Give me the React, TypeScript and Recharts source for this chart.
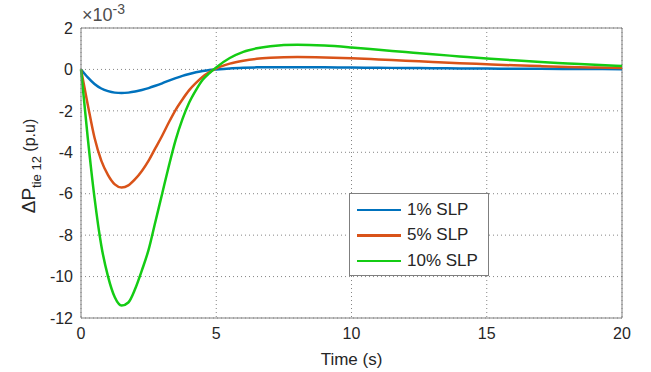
import React from 'react'
import {
  LineChart,
  Line,
  XAxis,
  YAxis,
  CartesianGrid,
  ReferenceLine,
} from 'recharts'

// time in seconds, values in units of 1e-3 p.u.
const time = [0, 0.25, 0.5, 0.75, 1, 1.25, 1.5, 1.75, 2, 2.25, 2.5, 2.75, 3, 3.25, 3.5, 3.75, 4, 4.25, 4.5, 4.75, 5, 5.5, 6, 6.5, 7, 8, 9, 10, 11, 12, 13, 14, 15, 16, 17, 18, 19, 20]
const slp1 = [0, -0.38, -0.7, -0.92, -1.05, -1.12, -1.14, -1.12, -1.07, -0.99, -0.9, -0.79, -0.67, -0.54, -0.42, -0.31, -0.22, -0.14, -0.08, -0.03, 0.0, 0.05, 0.08, 0.1, 0.11, 0.11, 0.1, 0.09, 0.08, 0.07, 0.06, 0.05, 0.04, 0.035, 0.03, 0.02, 0.02, 0.01]
const slp5 = [0, -1.7, -3.3, -4.4, -5.1, -5.55, -5.7, -5.6, -5.3, -4.9, -4.4, -3.8, -3.2, -2.55, -1.95, -1.45, -1.0, -0.65, -0.35, -0.13, 0.05, 0.28, 0.42, 0.51, 0.56, 0.6, 0.58, 0.54, 0.48, 0.42, 0.36, 0.3, 0.25, 0.2, 0.16, 0.12, 0.09, 0.07]
const slp10 = [0, -3.3, -6.2, -8.5, -10.0, -11.0, -11.4, -11.25, -10.6, -9.7, -8.7, -7.35, -6.0, -4.65, -3.4, -2.4, -1.6, -1.0, -0.5, -0.18, 0.1, 0.55, 0.85, 1.02, 1.12, 1.19, 1.15, 1.06, 0.95, 0.84, 0.73, 0.63, 0.53, 0.44, 0.36, 0.29, 0.22, 0.16]

const xTicks = [0, 5, 10, 15, 20]
const yTicks = [-12, -10, -8, -6, -4, -2, 0, 2]

const seriesNames = ['1% SLP', '5% SLP', '10% SLP']
const colors = ['#0072BD', '#D95319', '#14CC14']

const data = time.map((t, i) => ({
  t,
  s1: slp1[i],
  s5: slp5[i],
  s10: slp10[i],
}))

const font = '"Liberation Sans", Arial, sans-serif'
const tickStyle = { fontSize: 16, fill: '#262626', fontFamily: font }

function YLabel() {
  return (
    <text
      transform="translate(35,166) rotate(-90)"
      textAnchor="middle"
      fill="#262626"
      fontFamily={font}
    >
      <tspan fontSize={19}>ΔP</tspan>
      <tspan fontSize={13} dy={6}>tie 12</tspan>
      <tspan fontSize={16} dy={-6}> (p.u)</tspan>
    </text>
  )
}

function LegendBox() {
  return (
    <div
      style={{
        position: 'absolute',
        left: 349,
        top: 193,
        width: 140,
        height: 83,
        border: '1px solid #7f7f7f',
        background: '#fff',
        fontFamily: font,
        fontSize: 17,
        color: '#262626',
        boxSizing: 'border-box',
        paddingTop: 3,
      }}
    >
      {seriesNames.map((name, i) => (
        <div key={name} style={{ display: 'flex', alignItems: 'center', height: 25.5, whiteSpace: 'nowrap' }}>
          <div style={{ width: 44, height: 2.5, background: colors[i], marginLeft: 7, marginRight: 6 }} />
          <span>{name}</span>
        </div>
      ))}
    </div>
  )
}

export default function App() {
  return (
    <div style={{ position: 'absolute', left: 0, top: 0, width: 651, height: 372, background: '#fff' }}>
      <LineChart width={651} height={372} data={data} margin={{ top: 28, right: 29, bottom: 0, left: 0 }}>
        <CartesianGrid stroke="#666" strokeDasharray="1 3" strokeWidth={0.8} />
        <XAxis
          dataKey="t"
          type="number"
          domain={[0, 20]}
          ticks={xTicks}
          height={54}
          tickSize={0}
          tickMargin={10}
          tick={tickStyle}
          stroke="#808080"
          label={{ value: 'Time (s)', position: 'insideBottom', offset: 7, style: { fontSize: 17, fill: '#262626', fontFamily: font } }}
        />
        <YAxis
          type="number"
          domain={[-12, 2]}
          ticks={yTicks}
          width={81}
          tickSize={0}
          tickMargin={8}
          tick={tickStyle}
          stroke="#808080"
          label={<YLabel />}
          allowDataOverflow
        />
        <ReferenceLine y={2} stroke="#808080" />
        <ReferenceLine x={20} stroke="#808080" />
        <Line type="monotone" dataKey="s1" name={seriesNames[0]} stroke={colors[0]} strokeWidth={2.5} dot={false} isAnimationActive={false} />
        <Line type="monotone" dataKey="s5" name={seriesNames[1]} stroke={colors[1]} strokeWidth={2.5} dot={false} isAnimationActive={false} />
        <Line type="monotone" dataKey="s10" name={seriesNames[2]} stroke={colors[2]} strokeWidth={2.5} dot={false} isAnimationActive={false} />
      </LineChart>
      <LegendBox />
      <div
        style={{
          position: 'absolute',
          left: 82,
          top: 1,
          fontFamily: font,
          fontSize: 18,
          color: '#4d4d4d',
        }}
      >
        ×10<sup style={{ fontSize: 14 }}>-3</sup>
      </div>
    </div>
  )
}
